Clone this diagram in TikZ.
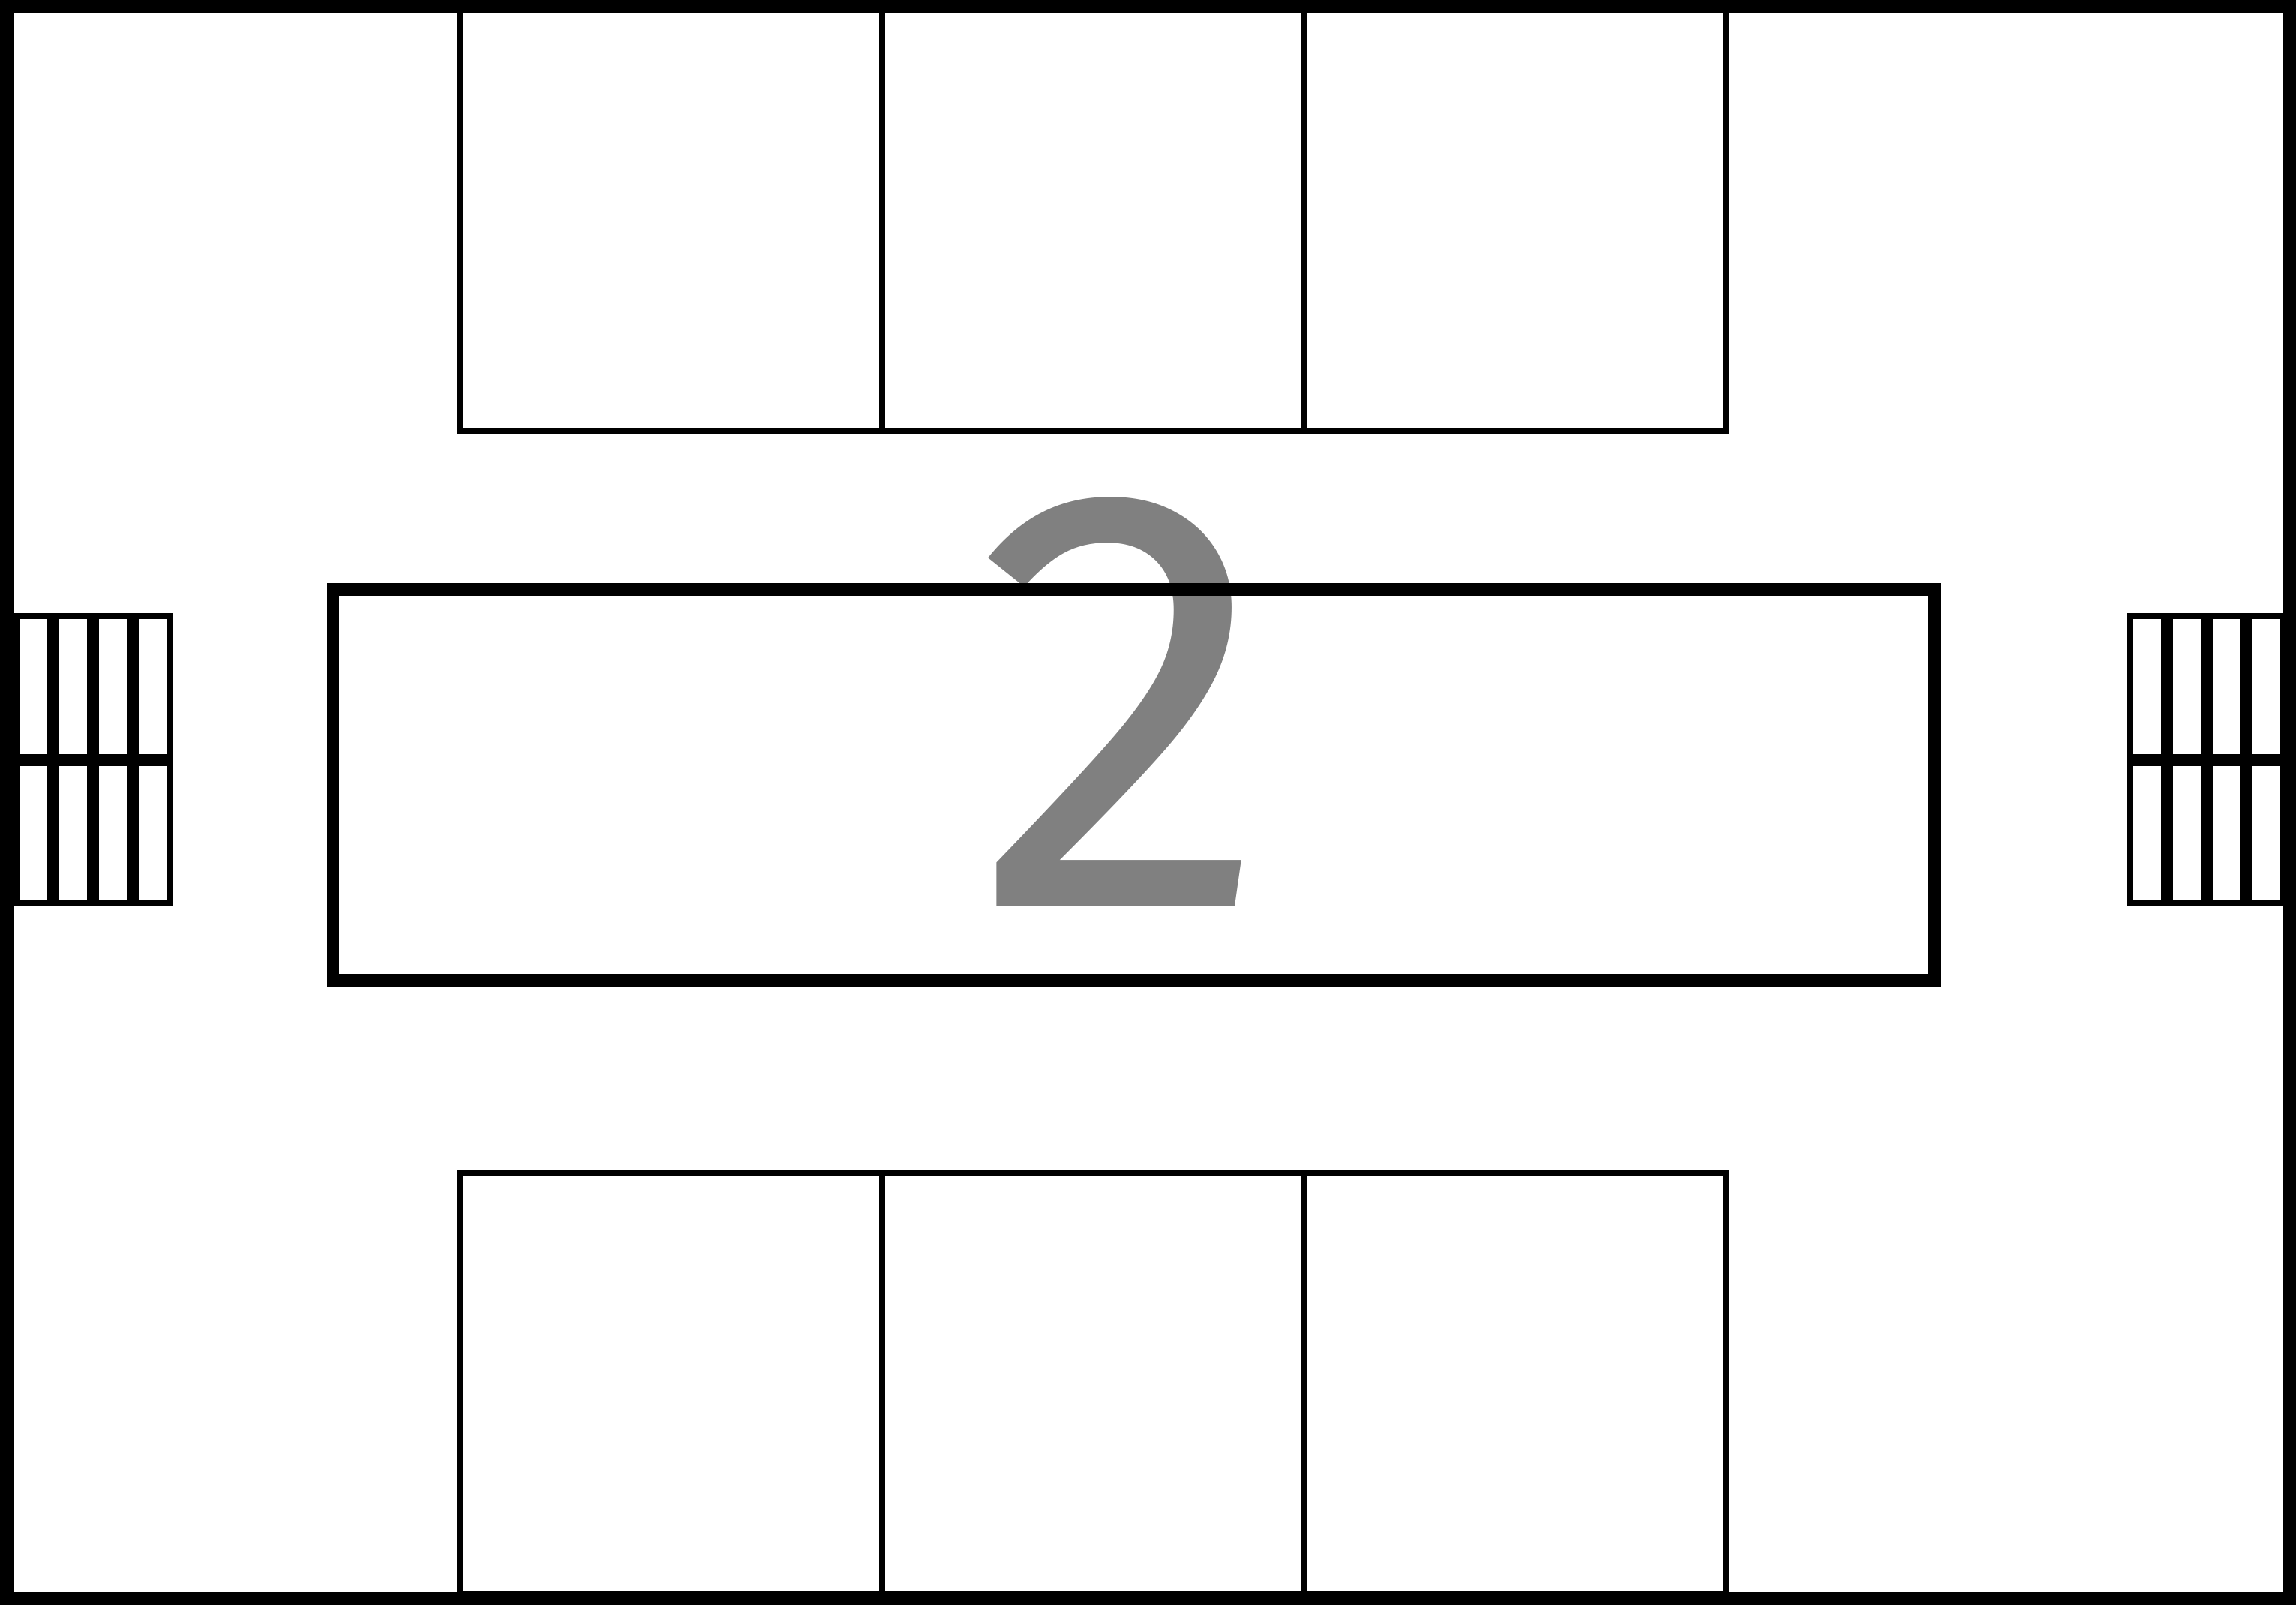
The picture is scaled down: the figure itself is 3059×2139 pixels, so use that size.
\documentclass[tikz,border=0pt]{standalone}
\usepackage{fontspec}
\setmainfont{Fira Sans}
\usetikzlibrary{positioning}

\begin{document}
\begin{tikzpicture}[
	x=0.25pt, y=-0.25pt,
	wall/.style={rectangle, draw=black, line width=4.4, inner sep=0, minimum width=760.4, minimum height=530.4},
	hall/.style={rectangle, draw=black, line width=4.1, inner sep=0, minimum width=533.4, minimum height=130.25},
	room/.style={rectangle, draw=black, line width=2, inner sep=0, outer sep=0, minimum width=140.6, minimum height=140.6},
	vent/.style={rectangle, draw=black, line width=2, inner sep=0, minimum width=11.25, minimum height=46.9},
	digit/.style={text=gray, inner sep=0, font=\fontsize{201}{201}\selectfont},
	]
		\useasboundingbox (0,0) rectangle (3059,2139);

		%Number under the hall
		\node[digit, anchor=base] (Number) at (1495,1208) {2};

		%Outer wall and hall
		\node[wall] (Wall) at (1529.5,1069.5) {};
		\node[hall] (Hall) at (1510.75,1046) {};

		%Rooms on top
		\node[room]        (TopA)   at (894.25,293.75)    {};
		\node[room]        (TopB)   [right=0pt of TopA]   {};
		\node[room]        (TopC)   [right=0pt of TopB]   {};

		%Rooms at the bottom
		\node[room]        (BotA)   at (894.25,1844.25)   {};
		\node[room]        (BotB)   [right=0pt of BotA]   {};
		\node[room]        (BotC)   [right=0pt of BotB]   {};

		%Left vents
		\node[vent]        (LeftA)  at (44,914.75)        {};
		\node[vent]        (LeftB)  [right=0pt of LeftA]  {};
		\node[vent]        (LeftC)  [right=0pt of LeftB]  {};
		\node[vent]        (LeftD)  [right=0pt of LeftC]  {};
		\node[vent]        (LeftE)  [below=0pt of LeftA]  {};
		\node[vent]        (LeftF)  [right=0pt of LeftE]  {};
		\node[vent]        (LeftG)  [right=0pt of LeftF]  {};
		\node[vent]        (LeftH)  [right=0pt of LeftG]  {};

		%Right vents
		\node[vent]        (RightA) at (2860.8,914.75)    {};
		\node[vent]        (RightB) [right=0pt of RightA] {};
		\node[vent]        (RightC) [right=0pt of RightB] {};
		\node[vent]        (RightD) [right=0pt of RightC] {};
		\node[vent]        (RightE) [below=0pt of RightA] {};
		\node[vent]        (RightF) [right=0pt of RightE] {};
		\node[vent]        (RightG) [right=0pt of RightF] {};
		\node[vent]        (RightH) [right=0pt of RightG] {};
	\end{tikzpicture}
\end{document}
